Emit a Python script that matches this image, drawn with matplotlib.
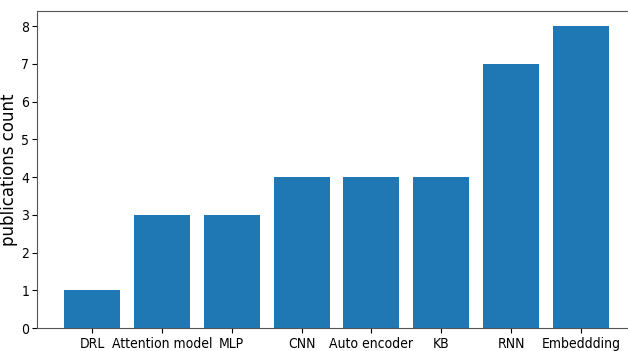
import matplotlib
matplotlib.use("Agg")
import matplotlib.pyplot as plt

# data
methods = ["DRL", "Attention model", "MLP", "CNN", "Auto encoder", "KB", "RNN", "Embeddding"]
counts = [1, 3, 3, 4, 4, 4, 7, 8]

fig = plt.figure(figsize=(6.28, 3.51), dpi=100)
# axes run a bit past the right edge, like the cropped original
ax = fig.add_axes([37 / 628, 23 / 351, 599 / 628, 317 / 351])

ax.bar(methods, counts, color="#1f77b4", width=0.8)
ax.set_ylim(0, 8.4)
ax.set_ylabel("publications count", fontsize=12)
ax.yaxis.set_label_coords(-0.031, 0.5)
ax.tick_params(axis="x", pad=3)
ax.tick_params(axis="y", pad=2)

# tick labels look squeezed in the original
for lab in ax.get_xticklabels() + ax.get_yticklabels():
    lab.set_fontfamily(["DejaVu Sans"])
    lab.set_fontstretch("condensed")
    lab.set_fontsize(10)

ax.spines["right"].set_visible(False)
for s in ax.spines.values():
    s.set_color("#555555")

fig.savefig("out.png", dpi=100)
